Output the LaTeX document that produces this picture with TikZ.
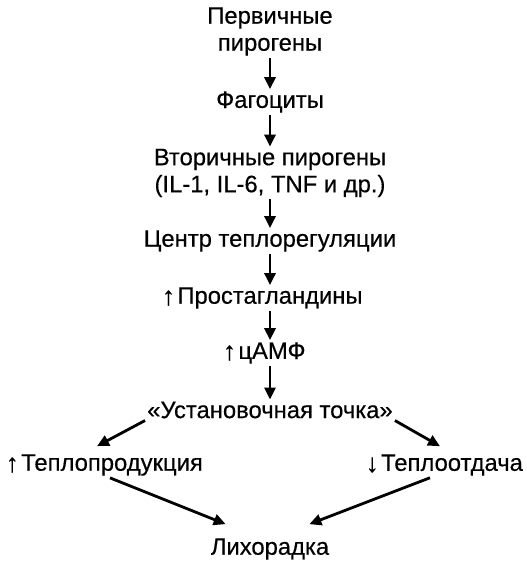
\documentclass[tikz,border=0pt]{standalone}
\usepackage{fontspec}
\setmainfont{Liberation Sans}[FakeBold=0.4]
\usetikzlibrary{arrows.meta}

\begin{document}
\begin{tikzpicture}[x=1pt, y=1pt,
    step box/.style={align=center, inner sep=2pt, font=\fontsize{23.8}{27}\selectfont},
    flow/.style={-{Triangle[length=12pt,width=11pt]}, line width=2.8pt},
    updown/.style={font=\fontsize{26}{27}\selectfont, inner sep=0pt}]
    \useasboundingbox (0,0) rectangle (527,-565);

    % Main chain
    \node[step box] (primary) at (270,-31.5) {Первичные\\пирогены};
    \node[step box] (phago) at (270,-102) {Фагоциты};
    \node[step box] (secondary) at (270,-173) {Вторичные пирогены\\(IL-1, IL-6, TNF и др.)};
    \node[step box] (center) at (270,-241) {Центр теплорегуляции};
    \node[step box, label={[updown]left:↑}] (prost) at (270,-298) {Простагландины};
    \node[step box, label={[updown]left:↑}] (camp) at (272,-353) {цАМФ};
    \node[step box] (setpoint) at (270,-410) {«Установочная точка»};

    % Branches
    \node[step box, label={[updown]left:↑}] (heatprod) at (112,-465) {Теплопродукция};
    \node[step box, label={[updown]left:↓}] (heatloss) at (452,-465) {Теплоотдача};
    \node[step box] (fever) at (270,-549) {Лихорадка};

    \draw[flow] (primary) -- (phago);
    \draw[flow] (phago) -- (secondary);
    \draw[flow] (secondary) -- (center);
    \draw[flow] (center) -- (prost);
    \draw[flow] (prost) -- (camp.north -| prost.south);
    \draw[flow] (camp.south -| prost.south) -- (setpoint);

    \draw[flow] (setpoint.south west) -- ([xshift=-15pt,yshift=6pt]heatprod.north);
    \draw[flow] (setpoint.south east) -- ([xshift=-12pt,yshift=6pt]heatloss.north);
    \draw[flow] ([xshift=-2pt]heatprod.south) -- ([xshift=17pt,yshift=12pt]fever.north west);
    \draw[flow] ([xshift=-22pt]heatloss.south) -- ([xshift=-22pt,yshift=12pt]fever.north east);
\end{tikzpicture}
\end{document}
